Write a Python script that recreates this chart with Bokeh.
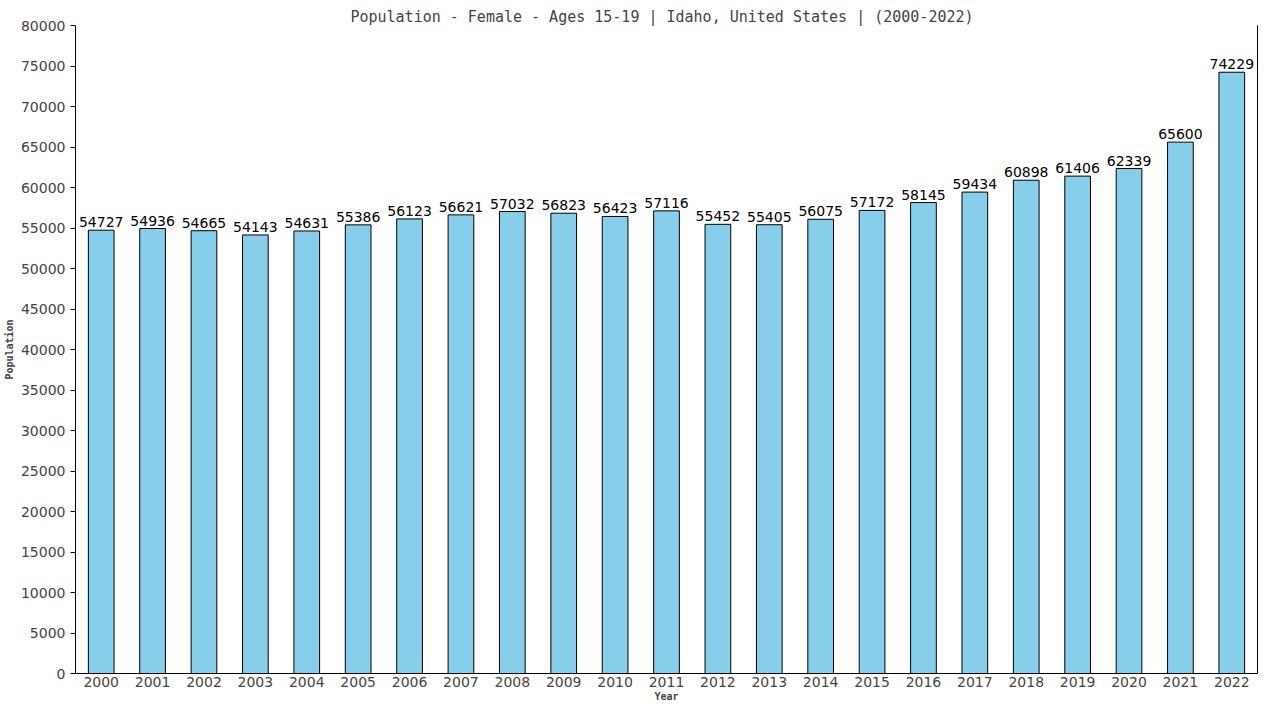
from bokeh.plotting import figure
from bokeh.models import ColumnDataSource, SingleIntervalTicker, LinearAxis, Range1d, FixedTicker
from bokeh.core.properties import value
from bokeh.embed import file_html
from bokeh.resources import INLINE

years = ["2000", "2001", "2002", "2003", "2004", "2005", "2006", "2007", "2008", "2009",
         "2010", "2011", "2012", "2013", "2014", "2015", "2016", "2017", "2018", "2019",
         "2020", "2021", "2022"]
population = [54727, 54936, 54665, 54143, 54631, 55386, 56123, 56621, 57032, 56823,
              56423, 57116, 55452, 55405, 56075, 57172, 58145, 59434, 60898, 61406,
              62339, 65600, 74229]
title_text = "Population - Female - Ages 15-19 | Idaho, United States |  (2000-2022)"

src = ColumnDataSource(dict(year=years, pop=population, label=[str(v) for v in population]))

p = figure(x_range=years, y_range=Range1d(0, 80000), width=1264, height=704,
           output_backend="svg", toolbar_location=None, tools="",
           min_border_left=71, min_border_right=7, min_border_top=25, min_border_bottom=30)

p.title.text = title_text
p.title.align = "center"
p.title.text_font = "DejaVu Sans Mono"
p.title.text_font_size = "15px"
p.title.text_font_style = "normal"
p.title.standoff = 0

p.vbar(x="year", top="pop", width=0.5, source=src, fill_color="#87CEEB",
       line_color="black", line_width=1)
p.text(x="year", y="pop", text="label", source=src, text_align="center",
       text_baseline="alphabetic", y_offset=-8, text_font=value("DejaVu Sans"),
       text_font_size="14px", text_color="black")

p.xgrid.grid_line_color = None
p.ygrid.grid_line_color = None
p.outline_line_color = None
p.x_range.range_padding = 0

p.yaxis.ticker = SingleIntervalTicker(interval=5000, num_minor_ticks=0)
p.yaxis.formatter.use_scientific = False
p.yaxis.major_tick_out = 5
p.yaxis.major_tick_in = 0
p.yaxis.minor_tick_line_color = None
p.yaxis.major_label_standoff = 5
p.yaxis.major_label_text_font = "DejaVu Sans"
p.yaxis.major_label_text_font_size = "14px"
p.yaxis.axis_label = "Population"
p.yaxis.axis_label_text_font = "DejaVu Sans Mono"
p.yaxis.axis_label_text_font_size = "10px"
p.yaxis.axis_label_text_font_style = "bold"
p.yaxis.axis_label_standoff = 3
p.yaxis.axis_line_color = "black"

p.xaxis.major_tick_line_color = None
p.xaxis.major_tick_out = 0
p.xaxis.major_tick_in = 0
p.xaxis.minor_tick_line_color = None
p.xaxis.major_label_standoff = 3
p.xaxis.major_label_text_font = "DejaVu Sans"
p.xaxis.major_label_text_font_size = "14px"
p.xaxis.axis_label = "Year"
p.xaxis.axis_label_text_font = "DejaVu Sans Mono"
p.xaxis.axis_label_text_font_size = "10px"
p.xaxis.axis_label_text_font_style = "bold"
p.xaxis.axis_label_standoff = 1
p.xaxis.axis_line_color = "black"

right = LinearAxis(ticker=FixedTicker(ticks=[]), major_tick_line_color=None,
                   minor_tick_line_color=None, major_tick_out=0, major_tick_in=0,
                   axis_line_color="black", major_label_standoff=0)
p.add_layout(right, "right")

open("out.html", "w").write(file_html(p, INLINE))
